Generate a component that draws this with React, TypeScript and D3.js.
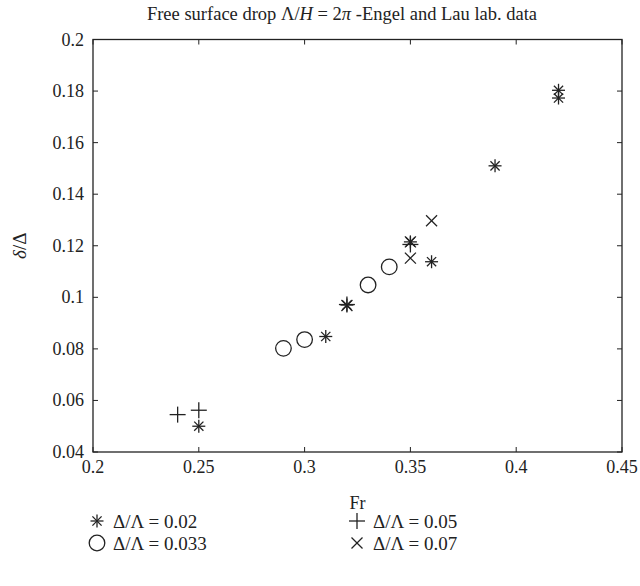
import React from "react";
import * as d3 from "d3";

const xTicks = [0.2, 0.25, 0.3, 0.35, 0.4, 0.45];
const yTicks = [0.04, 0.06, 0.08, 0.1, 0.12, 0.14, 0.16, 0.18, 0.2];
const xTickLabels = ["0.2", "0.25", "0.3", "0.35", "0.4", "0.45"];
const yTickLabels = ["0.04", "0.06", "0.08", "0.1", "0.12", "0.14", "0.16", "0.18", "0.2"];

const star002X = [0.25, 0.31, 0.32, 0.35, 0.36, 0.39, 0.42, 0.42];
const star002Y = [0.050, 0.0848, 0.097, 0.1215, 0.1138, 0.151, 0.1803, 0.1773];
const circ0033X = [0.29, 0.30, 0.33, 0.34];
const circ0033Y = [0.0802, 0.0836, 0.1048, 0.1118];
const plus005X = [0.24, 0.25, 0.32, 0.35];
const plus005Y = [0.0545, 0.0562, 0.0972, 0.1205];
const cross007X = [0.32, 0.35, 0.35, 0.36];
const cross007Y = [0.0968, 0.1152, 0.1215, 0.1297];

const legendLabels = ["Δ/Λ = 0.02", "Δ/Λ = 0.033", "Δ/Λ = 0.05", "Δ/Λ = 0.07"];

const W = 640, H = 586;
const L = 93, R = 622, T = 39.5, B = 452;
const FONT = "Liberation Serif";
const C = "#222";

function Marker({ kind, x, y }: { kind: string; x: number; y: number }) {
  const sw = 1.3;
  if (kind === "star") {
    const s = 6.5, d = 4.6;
    return (
      <g stroke={C} strokeWidth={sw}>
        <line x1={x - s} y1={y} x2={x + s} y2={y} />
        <line x1={x} y1={y - s} x2={x} y2={y + s} />
        <line x1={x - d} y1={y - d} x2={x + d} y2={y + d} />
        <line x1={x - d} y1={y + d} x2={x + d} y2={y - d} />
      </g>
    );
  }
  if (kind === "circ") {
    return <circle cx={x} cy={y} r={7.8} fill="none" stroke={C} strokeWidth={sw} />;
  }
  if (kind === "plus") {
    const s = 8;
    return (
      <g stroke={C} strokeWidth={sw}>
        <line x1={x - s} y1={y} x2={x + s} y2={y} />
        <line x1={x} y1={y - s} x2={x} y2={y + s} />
      </g>
    );
  }
  const d = 5.5;
  return (
    <g stroke={C} strokeWidth={sw}>
      <line x1={x - d} y1={y - d} x2={x + d} y2={y + d} />
      <line x1={x - d} y1={y + d} x2={x + d} y2={y - d} />
    </g>
  );
}

export default function App() {
  const xs = d3.scaleLinear().domain([0.2, 0.45]).range([L, R]);
  const ys = d3.scaleLinear().domain([0.04, 0.2]).range([B, T]);
  const series = [
    { kind: "star", xv: star002X, yv: star002Y },
    { kind: "circ", xv: circ0033X, yv: circ0033Y },
    { kind: "plus", xv: plus005X, yv: plus005Y },
    { kind: "cross", xv: cross007X, yv: cross007Y },
  ];
  const tl = 5;
  const legendPos = [
    { mx: 97, y: 521 },
    { mx: 97, y: 543 },
    { mx: 357, y: 521 },
    { mx: 357, y: 543 },
  ];
  const legendKinds = ["star", "circ", "plus", "cross"];
  return (
    <svg width={W} height={H} style={{ position: "absolute", left: 0, top: 0, background: "#fff" }}>
      <rect x={0} y={0} width={W} height={H} fill="#fff" />
      <text x={342} y={20} textAnchor="middle" fontFamily={FONT} fontSize={18.5} fill={C}>
        Free surface drop Λ/<tspan fontStyle="italic">H</tspan> = 2<tspan fontStyle="italic">π</tspan> -Engel and Lau lab. data
      </text>
      {xTicks.map((t, i) => (
        <g key={"xt" + i}>
          <line x1={xs(t)} x2={xs(t)} y1={B} y2={B - tl} stroke={C} strokeWidth={1} />
          <line x1={xs(t)} x2={xs(t)} y1={T} y2={T + tl} stroke={C} strokeWidth={1} />
          <text x={xs(t)} y={B + 21} textAnchor="middle" fontFamily={FONT} fontSize={18} fill={C}>
            {xTickLabels[i]}
          </text>
        </g>
      ))}
      {yTicks.map((t, i) => (
        <g key={"yt" + i}>
          <line x1={L} x2={L + tl} y1={ys(t)} y2={ys(t)} stroke={C} strokeWidth={1} />
          <line x1={R} x2={R - tl} y1={ys(t)} y2={ys(t)} stroke={C} strokeWidth={1} />
          <text x={L - 9} y={ys(t) + 6} textAnchor="end" fontFamily={FONT} fontSize={18} fill={C}>
            {yTickLabels[i]}
          </text>
        </g>
      ))}
      <rect x={L} y={T} width={R - L} height={B - T} fill="none" stroke={C} strokeWidth={1.3} />
      <text x={(L + R) / 2} y={509} textAnchor="middle" fontFamily={FONT} fontSize={18} fill={C}>Fr</text>
      <text transform={`translate(26,${(T + B) / 2}) rotate(-90)`} textAnchor="middle" fontFamily={FONT} fontSize={19} fill={C}>
        <tspan fontStyle="italic">δ</tspan>/Δ
      </text>
      {series.map((s, si) =>
        s.xv.map((xv, i) => <Marker key={si + "-" + i} kind={s.kind} x={xs(xv)} y={ys(s.yv[i])} />)
      )}
      {legendPos.map((p, i) => (
        <g key={"lg" + i}>
          <Marker kind={legendKinds[i]} x={p.mx} y={p.y} />
          <text x={p.mx + 16} y={p.y + 6.5} fontFamily={FONT} fontSize={19} fill={C}>{legendLabels[i]}</text>
        </g>
      ))}
    </svg>
  );
}
